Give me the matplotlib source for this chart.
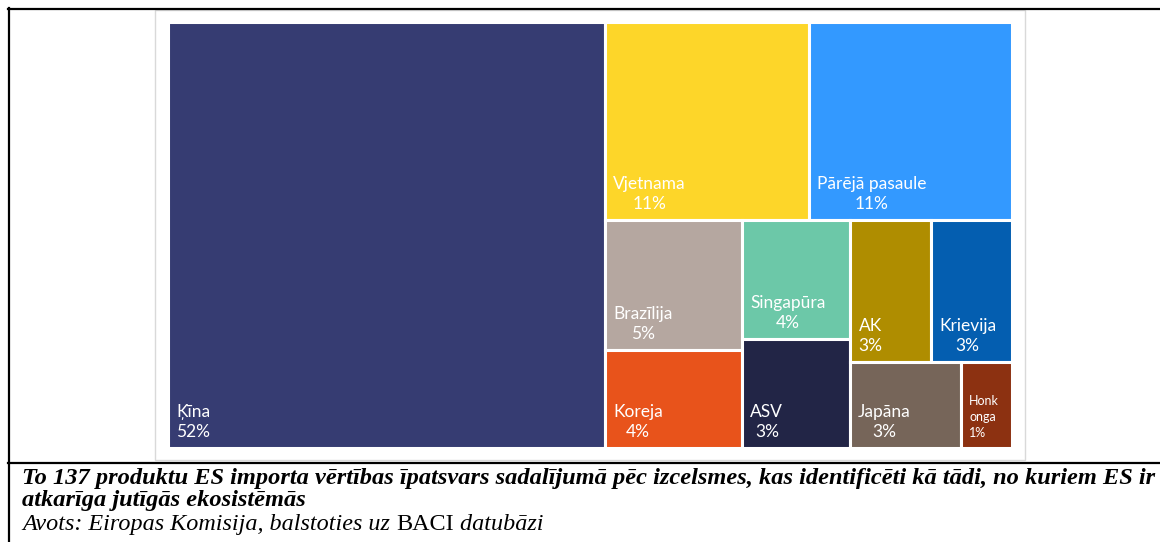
import matplotlib
matplotlib.use("Agg")
import matplotlib.pyplot as plt
from matplotlib.patches import Rectangle
from matplotlib.lines import Line2D

# shares of EU import value (%), read from tile areas
countries = ["Ķīna", "Vjetnama", "Pārējā pasaule", "Brazīlija", "Koreja",
             "Singapūra", "ASV", "AK", "Krievija", "Japāna", "Honkonga"]
shares = [51.8, 11.2, 11.2, 4.96, 3.74, 3.57, 3.27, 3.2, 3.2, 2.67, 1.23]
tile_labels = ["Ķīna", "Vjetnama", "Pārējā pasaule", "Brazīlija", "Koreja",
               "Singapūra", "ASV", "AK", "Krievija", "Japāna", "Honk\nonga"]
colors = ["#363C72", "#FDD629", "#3399FF", "#B5A7A0", "#E8531B",
          "#6CC8A8", "#222546", "#AF8D00", "#045EB0", "#766559", "#8C3111"]

caption1 = ("To 137 produktu ES importa vērtības īpatsvars sadalījumā pēc izcelsmes, "
            "kas identificēti kā tādi, no kuriem ES ir")
caption2 = "atkarīga jutīgās ekosistēmās"
source_parts = [("Avots: Eiropas Komisija, balstoties uz ", "italic"),
                ("BACI", "normal"), (" datubāzi", "italic")]

W, H = 844.0, 426.0  # treemap box in pixels
FW, FH = 1160, 542


def worst(row, side):
    s = sum(row)
    return max(side * side * max(row) / (s * s), s * s / (side * side * min(row)))


def squarify(values, x, y, w, h):
    total = sum(values)
    areas = [v * w * h / total for v in values]
    rects = []
    while areas:
        side = min(w, h)
        row = [areas[0]]
        i = 1
        while i < len(areas) and worst(row + [areas[i]], side) <= worst(row, side):
            row.append(areas[i])
            i += 1
        s = sum(row)
        if w >= h:
            cw = s / h
            yy = y
            for a in row:
                rects.append((x, yy, cw, a / cw))
                yy += a / cw
            x += cw
            w -= cw
        else:
            rh = s / w
            xx = x
            for a in row:
                rects.append((xx, y, a / rh, rh))
                xx += a / rh
            y += rh
            h -= rh
        areas = areas[i:]
    return rects


fig = plt.figure(figsize=(FW / 100, FH / 100), dpi=100)

# frame lines (pixel coords -> figure fraction)
def px(x, y):
    return x / FW, 1 - y / FH

for (x0, y0), (x1, y1) in [((8, 8.5), (FW, 8.5)), ((8.5, 8), (8.5, FH)),
                           ((8, 462.5), (FW, 462.5))]:
    a, b = px(x0, y0)
    c, d = px(x1, y1)
    fig.add_artist(Line2D([a, c], [b, d], color="black", lw=1.6,
                          transform=fig.transFigure))

# light grey chart border
bx, by = px(155, 460)
fig.add_artist(Rectangle((bx, by), 870 / FW, 450 / FH, fill=False,
                         edgecolor="#D9D9D9", lw=1, transform=fig.transFigure))

ax = fig.add_axes([168 / FW, 1 - 448 / FH, W / FW, H / FH])
ax.set_xlim(0, W)
ax.set_ylim(H, 0)
ax.axis("off")

rects = squarify(shares, 0, 0, W, H)
for (x, y, w, h), lab, v, col in zip(rects, tile_labels, shares, colors):
    ax.add_patch(Rectangle((x, y), w, h, facecolor=col, edgecolor="white", lw=2.2))
    small = "\n" in lab
    ax.annotate(f"{lab}\n{round(v)}%", xy=(x, y + h),
                xytext=(6, 6.5 if small else 5.5),
                textcoords="offset points", ha="left", va="bottom",
                multialignment="left" if small else "center",
                color="white", fontsize=9 if small else 12.5,
                family="Lato", linespacing=1.4 if small else 1.3)

# caption
cap_kw = dict(family="Liberation Serif", fontsize=17.6, weight="bold",
              style="italic", color="black", va="baseline", ha="left")
fig.text(*px(22, 484), caption1, **cap_kw)
fig.text(*px(22, 506), caption2, **cap_kw)

fig.canvas.draw()
renderer = fig.canvas.get_renderer()
xpos = 22
for txt, st in source_parts:
    t = fig.text(*px(xpos, 530), txt, family="Liberation Serif", fontsize=17.4,
                 style=st, color="black", va="baseline", ha="left")
    xpos += t.get_window_extent(renderer).width

fig.savefig("out.png", dpi=100)
